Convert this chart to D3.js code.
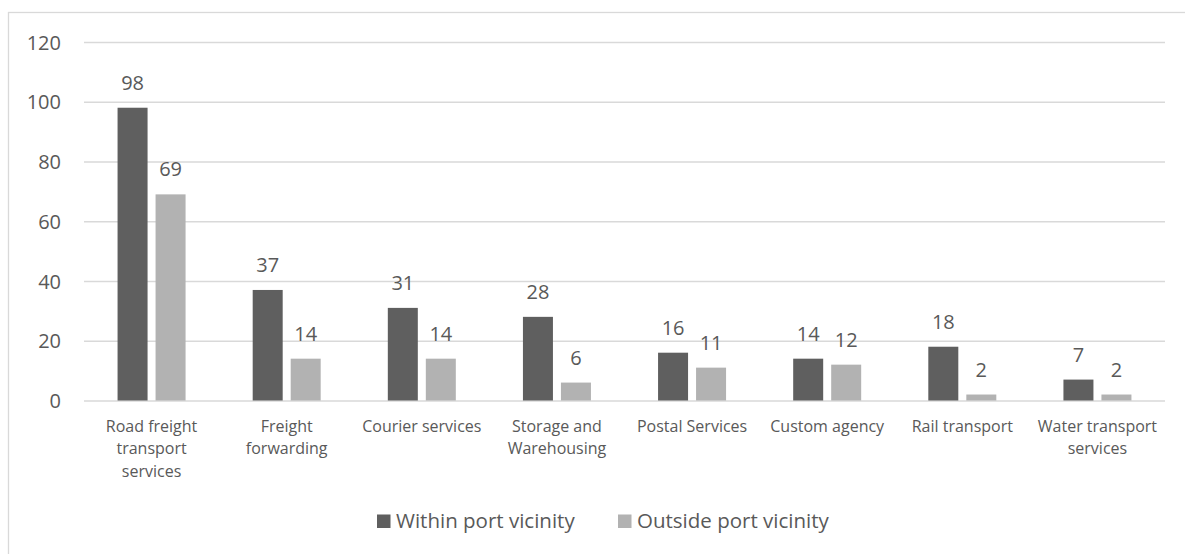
<!DOCTYPE html>
<html>
<head>
<meta charset="utf-8">
<script src="https://cdn.jsdelivr.net/npm/d3@7"></script>
<style>
  html, body { margin: 0; padding: 0; background: #fff; }
  svg { display: block; font-family: "Open Sans", "DejaVu Sans", sans-serif; }
</style>
</head>
<body>
<svg id="chart" width="1185" height="554"></svg>
<script>
// Logistics services by location relative to the port
const categories = [
  "Road freight\ntransport\nservices",
  "Freight\nforwarding",
  "Courier services",
  "Storage and\nWarehousing",
  "Postal Services",
  "Custom agency",
  "Rail transport",
  "Water transport\nservices"
];
const withinPort = [98, 37, 31, 28, 16, 14, 18, 7];
const outsidePort = [69, 14, 14, 6, 11, 12, 2, 2];
const seriesNames = ["Within port vicinity", "Outside port vicinity"];
const yTicks = [0, 20, 40, 60, 80, 100, 120];

const colors = ["#5f5f5f", "#b2b2b2"];
const textColor = "#595959";
const gridColor = "#d9d9d9";

const svg = d3.select("#chart");
const plotLeft = 84, plotRight = 1165;

// outer frame
svg.append("rect")
  .attr("x", 8.5).attr("y", 12.5)
  .attr("width", 1300).attr("height", 700)
  .attr("fill", "none").attr("stroke", gridColor).attr("stroke-width", 1.3);

const x = d3.scaleBand()
  .domain(d3.range(categories.length))
  .range([plotLeft, plotRight])
  .paddingInner(0).paddingOuter(0);

const y = d3.scaleLinear().domain([0, 120]).range([400.5, 42]);

const barW = 30, gap = 8;
const sub = d3.scaleOrdinal().domain([0, 1]).range([-(barW + gap) / 2, (barW + gap) / 2]);

// gridlines and value axis labels
const yAxis = d3.axisLeft(y).tickValues(yTicks).tickSize(-(plotRight - plotLeft)).tickPadding(23);
const gy = svg.append("g").attr("transform", `translate(${plotLeft},0)`).call(yAxis);
gy.select(".domain").remove();
gy.selectAll(".tick line").attr("stroke", gridColor).attr("stroke-width", 1.3);
gy.selectAll(".tick text")
  .attr("fill", textColor)
  .style("font-size", "20px")
  .style("font-family", "'Open Sans', sans-serif")
  .attr("dy", "0.36em");

const series = [withinPort, outsidePort];

series.forEach((vals, si) => {
  const g = svg.append("g");
  g.selectAll("rect").data(vals).join("rect")
    .attr("x", (d, i) => x(i) + x.bandwidth() / 2 + sub(si) - barW / 2)
    .attr("y", d => y(d))
    .attr("width", barW)
    .attr("height", d => y(0) - y(d))
    .attr("fill", colors[si]);
  g.selectAll("text").data(vals).join("text")
    .attr("x", (d, i) => x(i) + x.bandwidth() / 2 + sub(si))
    .attr("y", d => y(d) - 18)
    .attr("text-anchor", "middle")
    .attr("fill", textColor)
    .style("font-size", "20px")
    .text(d => d);
});

// category labels
const xl = svg.append("g");
categories.forEach((c, i) => {
  const t = xl.append("text")
    .attr("text-anchor", "middle")
    .attr("fill", textColor)
    .style("font-size", "16px");
  c.split("\n").forEach((line, li) => {
    t.append("tspan")
      .attr("x", x(i) + x.bandwidth() / 2)
      .attr("y", 431.5 + li * 22.5)
      .text(line);
  });
});

// legend
const legendItems = [
  { x: 377, name: seriesNames[0], color: colors[0] },
  { x: 618, name: seriesNames[1], color: colors[1] }
];
const lg = svg.append("g");
legendItems.forEach(it => {
  lg.append("rect").attr("x", it.x).attr("y", 514.5).attr("width", 13.5).attr("height", 13.5).attr("fill", it.color);
  lg.append("text").attr("x", it.x + 19).attr("y", 527.5)
    .attr("fill", textColor).style("font-size", "20.5px").text(it.name);
});
</script>
</body>
</html>
